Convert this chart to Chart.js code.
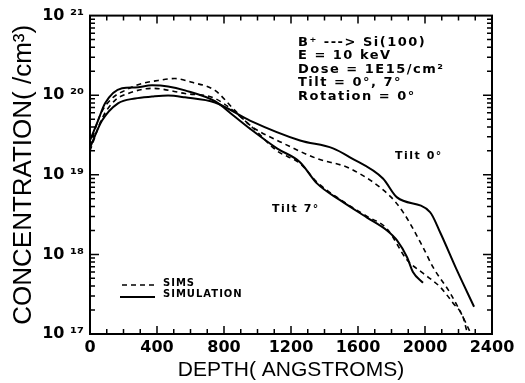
<!DOCTYPE html>
<html>
<head>
<meta charset="utf-8">
<script src="https://cdn.jsdelivr.net/npm/chart.js@4.4.1/dist/chart.umd.min.js"></script>
<style>
  html, body { margin: 0; padding: 0; background: #fff; }
  #wrap { width: 525px; height: 383px; }
</style>
</head>
<body>
<div id="wrap"><canvas id="profileChart"></canvas></div>
<script>
// ── Data (depth in angstroms, concentration in /cm3) ────────────────────────

const depthTilt0Sim = [0, 72, 167, 269, 370, 466, 567, 746, 955, 1254, 1451, 1552, 1749, 1833, 2030, 2090, 2191, 2293];
const concTilt0Sim  = [2.2e19, 4.8e19, 7.9e19, 9.1e19, 9.6e19, 9.9e19, 9.4e19, 8.1e19, 4.8e19, 2.7e19, 2.15e19, 1.66e19, 9.0e18, 5.2e18, 3.4e18, 1.9e18, 6.3e17, 2.2e17];

const depthTilt7Sim = [0, 48, 90, 191, 269, 370, 466, 567, 746, 854, 955, 1116, 1254, 1355, 1493, 1654, 1773, 1833, 1893, 1928, 1988];
const concTilt7Sim  = [2.7e19, 4.8e19, 7.9e19, 1.22e20, 1.25e20, 1.33e20, 1.29e20, 1.15e20, 8.4e19, 5.6e19, 3.8e19, 2.15e19, 1.44e19, 7.8e18, 4.8e18, 2.9e18, 2.0e18, 1.5e18, 9.2e17, 6.0e17, 4.4e17];

const depthTilt0Sims = [0, 60, 131, 209, 310, 406, 507, 609, 746, 854, 955, 1152, 1355, 1552, 1791, 1869, 1988, 2048, 2149, 2227, 2269];
const concTilt0Sims  = [2.3e19, 5.6e19, 9.1e19, 1.15e20, 1.40e20, 1.53e20, 1.62e20, 1.45e20, 1.15e20, 6.8e19, 4.2e19, 2.5e19, 1.6e19, 1.2e19, 5.4e18, 3.4e18, 1.23e18, 6.9e17, 3.3e17, 1.63e17, 1.06e17];

const depthTilt7Sims = [0, 72, 149, 227, 370, 567, 746, 955, 1116, 1254, 1355, 1493, 1654, 1773, 1893, 1988, 2090, 2167, 2227, 2251];
const concTilt7Sims  = [2.0e19, 5.1e19, 8.6e19, 1.05e20, 1.22e20, 1.05e20, 9.1e19, 4.2e19, 2.0e19, 1.39e19, 8.1e18, 4.9e18, 3.0e18, 2.1e18, 8.5e17, 5.8e17, 3.9e17, 2.45e17, 1.63e17, 1.06e17];

const xTicks = [0, 400, 800, 1200, 1600, 2000, 2400];
const yTicks = [1e17, 1e18, 1e19, 1e20, 1e21];

const infoLines = ['B\u207A ---> Si(100)', 'E = 10 keV', 'Dose = 1E15/cm\u00B2', 'Tilt = 0\u00B0, 7\u00B0', 'Rotation = 0\u00B0'];

// ── Helpers ────────────────────────────────────────────────────────────────

const SUP = { '0': '\u2070', '1': '\u00B9', '2': '\u00B2', '3': '\u00B3', '4': '\u2074',
              '5': '\u2075', '6': '\u2076', '7': '\u2077', '8': '\u2078', '9': '\u2079' };

function toPoints(xs, ys) {
    return xs.map((x, i) => ({ x, y: ys[i] }));
}

function lineSet(label, xs, ys, dashed) {
    return {
        label,
        data: toPoints(xs, ys),
        borderColor: '#000',
        borderWidth: dashed ? 1.6 : 2,
        borderDash: dashed ? [5, 4] : [],
        pointRadius: 0,
        fill: false,
        cubicInterpolationMode: 'monotone',
    };
}

// ── Frame, inward ticks, legend and notes ──────────────────────────────────

const frameTicks = {
    id: 'frameTicks',
    afterDatasetsDraw(chart) {
        const { ctx, chartArea: a, scales: { x, y } } = chart;
        ctx.save();
        ctx.strokeStyle = '#000';
        ctx.lineWidth = 2;
        ctx.strokeRect(a.left, a.top, a.right - a.left, a.bottom - a.top);

        ctx.lineWidth = 1.5;
        ctx.beginPath();
        for (let v = 0; v <= 2400; v += 100) {
            const px  = x.getPixelForValue(v);
            const len = v % 400 === 0 ? 8 : 5;
            ctx.moveTo(px, a.bottom); ctx.lineTo(px, a.bottom - len);
            ctx.moveTo(px, a.top);    ctx.lineTo(px, a.top + len);
        }
        for (let e = 17; e < 21; e++) {
            for (let m = 1; m < 10; m++) {
                const py  = y.getPixelForValue(m * Math.pow(10, e));
                const len = m === 1 ? 9 : 5;
                ctx.moveTo(a.left, py);  ctx.lineTo(a.left + len, py);
                ctx.moveTo(a.right, py); ctx.lineTo(a.right - len, py);
            }
        }
        ctx.stroke();

        // legend
        const lx = a.left + 32, ly = a.bottom - 49;
        ctx.lineWidth = 1.6;
        ctx.setLineDash([5, 4]);
        ctx.beginPath(); ctx.moveTo(lx, ly); ctx.lineTo(lx + 33, ly); ctx.stroke();
        ctx.setLineDash([]);
        ctx.lineWidth = 2;
        ctx.beginPath(); ctx.moveTo(lx - 2, ly + 12); ctx.lineTo(lx + 33, ly + 12); ctx.stroke();
        ctx.fillStyle = '#000';
        ctx.font = "bold 10px 'DejaVu Sans'";
        ctx.letterSpacing = '1px';
        ctx.textBaseline = 'middle';
        ctx.fillText('SIMS', lx + 41, ly - 2);
        ctx.fillText('SIMULATION', lx + 41, ly + 9);

        // run conditions
        ctx.font = "bold 13px 'DejaVu Sans'";
        ctx.letterSpacing = '1.5px';
        infoLines.forEach((t, i) => ctx.fillText(t, a.left + 208, a.top + 27 + i * 13.5));

        // curve labels
        ctx.font = "bold 11px 'DejaVu Sans'";
        ctx.letterSpacing = '1.5px';
        ctx.fillText('Tilt 0\u00B0', a.left + 305, a.top + 141);
        ctx.fillText('Tilt 7\u00B0', a.left + 182, a.top + 194);
        ctx.restore();
    },
};

// ── Chart ──────────────────────────────────────────────────────────────────

new Chart(document.getElementById('profileChart').getContext('2d'), {
    type: 'line',
    data: {
        datasets: [
            lineSet('SIMS tilt 0',       depthTilt0Sims, concTilt0Sims, true),
            lineSet('SIMS tilt 7',       depthTilt7Sims, concTilt7Sims, true),
            lineSet('Simulation tilt 0', depthTilt0Sim,  concTilt0Sim,  false),
            lineSet('Simulation tilt 7', depthTilt7Sim,  concTilt7Sim,  false),
        ],
    },
    options: {
        responsive: true,
        maintainAspectRatio: false,
        animation: false,
        layout: { padding: { left: 0, right: 33, top: 15, bottom: 0 } },
        plugins: {
            legend: { display: false },
            tooltip: { enabled: false },
        },
        scales: {
            x: {
                type: 'linear',
                min: 0,
                max: 2400,
                afterBuildTicks: (s) => { s.ticks = xTicks.map(v => ({ value: v })); },
                afterFit: (s) => { s.height = 49; },
                grid: { display: false, drawTicks: false },
                border: { display: false },
                ticks: {
                    color: '#000',
                    padding: 4,
                    maxRotation: 0,
                    font: { family: "'DejaVu Sans'", size: 16, weight: 'bold' },
                    callback: (v) => String(v),
                },
                title: {
                    display: true,
                    text: 'DEPTH( ANGSTROMS)',
                    color: '#000',
                    padding: { top: 2, bottom: 0 },
                    font: { family: "'Liberation Sans'", size: 21 },
                },
            },
            y: {
                type: 'logarithmic',
                min: 1e17,
                max: 1e21,
                afterBuildTicks: (s) => { s.ticks = yTicks.map(v => ({ value: v })); },
                afterFit: (s) => { s.width = 90; },
                grid: { display: false, drawTicks: false },
                border: { display: false },
                ticks: {
                    color: '#000',
                    padding: 6,
                    font: { family: "'DejaVu Sans'", size: 16, weight: 'bold' },
                    callback: (v) => {
                        const e = String(Math.round(Math.log10(v)));
                        return '10 ' + e.split('').map(d => SUP[d]).join('');
                    },
                },
                title: {
                    display: true,
                    text: 'CONCENTRATION( /cm\u00B3)',
                    color: '#000',
                    padding: { top: 8, bottom: 0 },
                    font: { family: "'Liberation Sans'", size: 26 },
                },
            },
        },
    },
    plugins: [frameTicks],
});
</script>
</body>
</html>
